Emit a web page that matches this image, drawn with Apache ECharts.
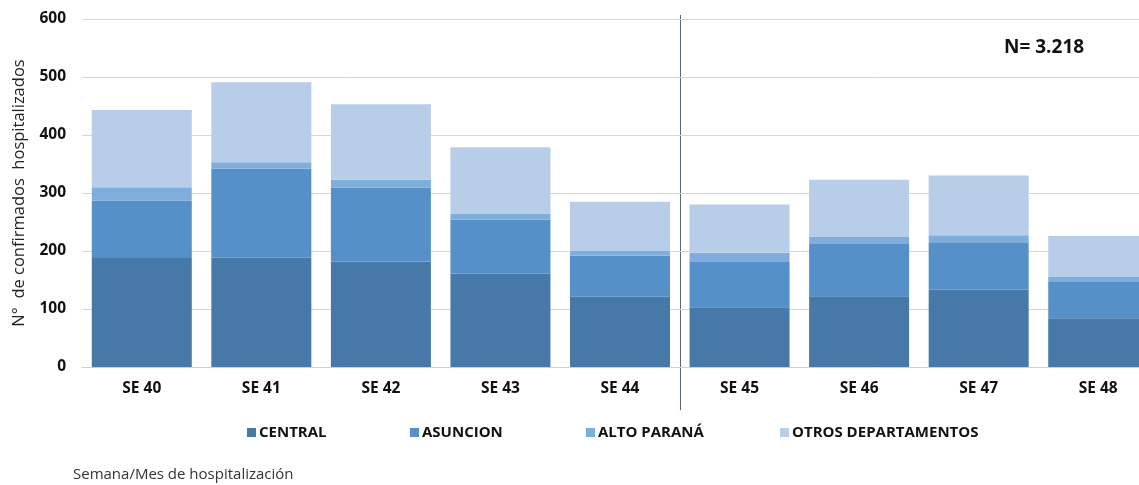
<!DOCTYPE html>
<html><head><meta charset="utf-8">
<script src="https://cdn.jsdelivr.net/npm/echarts@6/dist/echarts.min.js"></script>
<style>html,body{margin:0;padding:0;background:#fff}#c{width:1139px;height:485px}</style>
</head><body><div id="c"></div>
<script>
const categories = ['SE 40','SE 41','SE 42','SE 43','SE 44','SE 45','SE 46','SE 47','SE 48'];
const central = [188,189,182,161,121,103,122,133,84];
const asuncion = [99,153,127,93,71,78,90,82,64];
const altoParana = [23,11,14,10,8,16,13,12,8];
const otros = [133,138,130,115,85,83,98,103,70];
const yTicks = [0,100,200,300,400,500,600];
const seriesNames = ['CENTRAL','ASUNCION','ALTO PARANÁ','OTROS DEPARTAMENTOS'];
const colors = ['#4779A8','#5591C8','#80AEDC','#B8CDE7'];

const font = '"Liberation Sans Narrow", "Open Sans", sans-serif';
const chart = echarts.init(document.getElementById('c'));
const legendLefts = [242, 405, 581, 775];
const mk = (name, data, i) => ({
  name, type: 'bar', stack: 'a', data, barWidth: 100,
  itemStyle: { color: colors[i] }, emphasis: { disabled: true }
});
chart.setOption({
  animation: false,
  grid: { left: 82, top: 19, bottom: 118, right: -19, outerBoundsMode: 'none', containLabel: false },
  legend: seriesNames.map((n, i) => ({
    data: [n], left: legendLefts[i], top: 420, itemWidth: 9, itemHeight: 9, itemGap: 0,
    icon: 'rect', selectedMode: false,
    textStyle: { fontFamily: font, fontWeight: 'bold', fontSize: 15, color: '#111', padding: [0,0,0,-2] }
  })),
  xAxis: {
    type: 'category', data: categories,
    axisLine: { show: true, lineStyle: { color: '#d0d0d0' } },
    axisTick: { show: false },
    axisLabel: { fontFamily: 'Open Sans, sans-serif', fontWeight: 'bold', fontSize: 15.5, color: '#111', margin: 14 }
  },
  yAxis: {
    type: 'value', min: yTicks[0], max: yTicks[yTicks.length-1], interval: 100,
    name: 'N°  de confirmados  hospitalizados', nameLocation: 'middle', nameGap: 54,
    nameTextStyle: { fontFamily: 'Open Sans, sans-serif', fontSize: 16.5, color: '#222' },
    axisLine: { show: false }, axisTick: { show: false },
    axisLabel: { fontFamily: 'Open Sans, sans-serif', fontWeight: 'bold', fontSize: 15.5, color: '#111', margin: 16 },
    splitLine: { lineStyle: { color: '#d6d6d6', width: 1 } }
  },
  series: [mk(seriesNames[0], central, 0), mk(seriesNames[1], asuncion, 1), mk(seriesNames[2], altoParana, 2), mk(seriesNames[3], otros, 3)],
  graphic: [
    { type: 'text', left: 1004, top: 38, style: { text: 'N= 3.218', fontFamily: 'Open Sans, sans-serif', fontWeight: 'bold', fontSize: 19, fill: '#111' } },
    { type: 'text', left: 73, top: 467, style: { text: 'Semana/Mes de hospitalización', fontFamily: 'Open Sans, sans-serif', fontSize: 15, fill: '#333' } }
  ]
});
const p44 = chart.convertToPixel({ xAxisIndex: 0 }, 'SE 44');
const p45 = chart.convertToPixel({ xAxisIndex: 0 }, 'SE 45');
const xd = Math.round((p44 + p45) / 2) + 0.5;
chart.setOption({ graphic: [{}, {}, { type: 'line', shape: { x1: xd, y1: 15, x2: xd, y2: 410 }, style: { stroke: '#5a6478', lineWidth: 1 } }] });
</script></body></html>
